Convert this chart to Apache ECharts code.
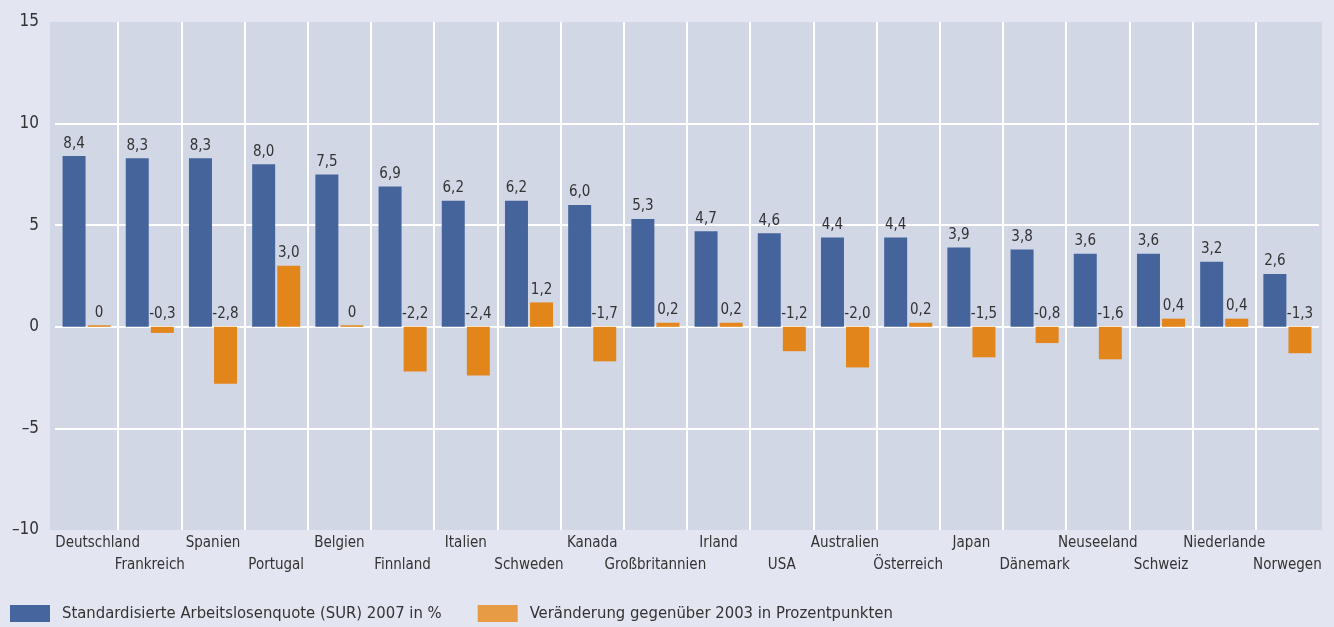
<!DOCTYPE html>
<html>
<head>
    <meta charset="UTF-8">
    <title>Arbeitslosenquote</title>
    <script src="https://cdn.jsdelivr.net/npm/echarts@6/dist/echarts.min.js"></script>
    <style>
        html, body { margin: 0; padding: 0; background: #e3e5f0; }
        #chart { width: 1334px; height: 627px; }
    </style>
</head>
<body>
<div id="chart"></div>
<script>
    // Daten
    var laender = ['Deutschland', 'Frankreich', 'Spanien', 'Portugal', 'Belgien', 'Finnland', 'Italien', 'Schweden',
        'Kanada', 'Großbritannien', 'Irland', 'USA', 'Australien', 'Österreich', 'Japan', 'Dänemark',
        'Neuseeland', 'Schweiz', 'Niederlande', 'Norwegen'];
    var sur2007 = [8.4, 8.3, 8.3, 8.0, 7.5, 6.9, 6.2, 6.2, 6.0, 5.3, 4.7, 4.6, 4.4, 4.4, 3.9, 3.8, 3.6, 3.6, 3.2, 2.6];
    var veraenderung = [0, -0.3, -2.8, 3.0, 0, -2.2, -2.4, 1.2, -1.7, 0.2, 0.2, -1.2, -2.0, 0.2, -1.5, -0.8, -1.6, 0.4, 0.4, -1.3];
    var nameSur = 'Standardisierte Arbeitslosenquote (SUR) 2007 in %';
    var nameVer = 'Veränderung gegenüber 2003 in Prozentpunkten';

    var font = "'Liberation Sans Narrow', 'DejaVu Sans Condensed', sans-serif";
    var none = 'rgba(0,0,0,0)';

    function fmt(v) {
        if (v === 0) return '0';
        return v.toFixed(1).replace('.', ',');
    }

    // weisse Gitterlinien, ohne die Randlinien
    var vLines = [none];
    for (var i = 0; i < laender.length - 1; i++) vLines.push('#ffffff');
    vLines.push(none);
    var hLines = [none, '#ffffff', '#ffffff', '#ffffff', '#ffffff', none];

    var chart = echarts.init(document.getElementById('chart'));
    chart.setOption({
        backgroundColor: '#e3e5f0',
        animation: false,
        textStyle: { fontFamily: font },
        graphic: [{
            type: 'rect',
            z: -10,
            shape: { x: 50, y: 22, width: 1272, height: 508 },
            style: { fill: '#d2d7e6' }
        }],
        grid: { left: 55, right: 15, top: 22, bottom: 97 },
        legend: {
            left: 10,
            top: 605,
            padding: 0,
            icon: 'rect',
            itemWidth: 40,
            itemHeight: 17,
            itemGap: 36,
            textStyle: { fontSize: 16.5, color: '#333', fontFamily: font, padding: [0, 0, 0, 7] },
            data: [
                { name: nameSur, itemStyle: { color: '#46659e' } },
                { name: nameVer, itemStyle: { color: '#e89b45' } }
            ]
        },
        xAxis: {
            type: 'category',
            data: laender,
            axisLine: { show: false },
            axisTick: { show: false },
            splitLine: { show: true, interval: 0, lineStyle: { color: vLines, width: 2 } },
            axisLabel: {
                interval: 0,
                margin: 2,
                color: '#333',
                fontSize: 15,
                lineHeight: 22,
                fontFamily: font,
                formatter: function (value, index) {
                    if (index === 0) return '{first|' + value + '}';
                    return index % 2 === 1 ? '\n' + value : value;
                },
                rich: {
                    first: { fontSize: 15, color: '#333', lineHeight: 22, fontFamily: font, padding: [0, 0, 0, 22] }
                }
            }
        },
        yAxis: {
            type: 'value',
            min: -10,
            max: 15,
            interval: 5,
            axisLine: { show: false },
            axisTick: { show: false },
            splitLine: { show: true, lineStyle: { color: hLines, width: 2 } },
            axisLabel: {
                color: '#333',
                fontSize: 17,
                margin: 16,
                fontFamily: font,
                formatter: function (v) { return String(v).replace('-', '\u2013'); }
            }
        },
        series: [
            {
                name: nameSur,
                type: 'bar',
                data: sur2007,
                barWidth: 23,
                barGap: '9%',
                itemStyle: { color: '#46649c' },
                label: {
                    show: true,
                    position: 'top',
                    distance: 5,
                    color: '#333',
                    fontSize: 15,
                    fontFamily: font,
                    formatter: function (p) { return fmt(p.value); }
                }
            },
            {
                name: nameVer,
                type: 'bar',
                data: veraenderung,
                barWidth: 23,
                barMinHeight: 1.5,
                itemStyle: { color: '#e2861b' },
                label: {
                    show: true,
                    position: 'top',
                    distance: 5,
                    color: '#333',
                    fontSize: 15,
                    fontFamily: font,
                    formatter: function (p) { return fmt(p.value); }
                }
            }
        ]
    });
</script>
</body>
</html>
